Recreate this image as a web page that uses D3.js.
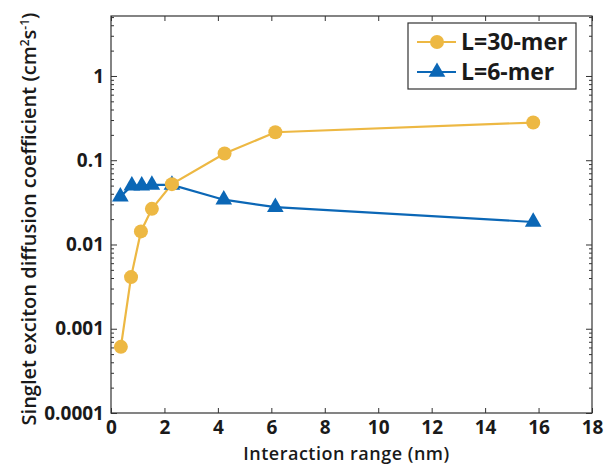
<!DOCTYPE html>
<html>
  <head>
    <style type="text/css">
      body { margin:0; background:#fff; }
      text { font-family:"Open Sans",sans-serif; fill:#1a1a1a; }
      .tick text { font-weight:bold; font-size:19px; }
      .domain { display:none; }
    </style>
  </head>
  <body>
    <div id="canvas"></div>
    <script src="https://d3js.org/d3.v7.min.js"></script>
    <script type="text/javascript">

    // interaction range (nm)
    var range30 = [0.37, 0.75, 1.12, 1.53, 2.28, 4.25, 6.15, 15.8];
    var diff30 = [0.00061, 0.0041, 0.0143, 0.0265, 0.052, 0.12, 0.215, 0.28];
    var range6 = [0.35, 0.78, 1.15, 1.53, 2.28, 4.22, 6.15, 15.8];
    var diff6 = [0.037, 0.05, 0.05, 0.051, 0.051, 0.034, 0.0278, 0.0185];
    var xTicks = [0, 2, 4, 6, 8, 10, 12, 14, 16, 18];
    var yTicks = [0.0001, 0.001, 0.01, 0.1, 1];
    var yTickLabels = ["0.0001", "0.001", "0.01", "0.1", "1"];
    var seriesNames = ["L=30-mer", "L=6-mer"];
    var colors = ["#EDB843", "#0B67B6"];

    var W = 605, H = 465;
    var margin = {left:111, right:13, top:16, bottom:52};
    var pw = W - margin.left - margin.right,
        ph = H - margin.top - margin.bottom;

    var svg = d3.select('#canvas').append('svg')
      .attr('width', W).attr('height', H);
    var g = svg.append('g').attr('transform', 'translate(' + margin.left + ',' + margin.top + ')');

    var x = d3.scaleLinear().domain([0, 18]).range([0, pw]);
    var y = d3.scaleLog().domain([0.0001, 5.15]).range([ph, 0]);

    // minor ticks for log axis
    var minor = [];
    [0.0001, 0.001, 0.01, 0.1, 1].forEach(function (d) {
      for (var k = 2; k <= 9; k++) { if (d * k <= 5.15) minor.push(d * k); }
    });

    var tk = '#333';
    // bottom / top x axes
    g.append('g').attr('transform', 'translate(0,' + ph + ')')
      .call(d3.axisBottom(x).tickValues(xTicks).tickSize(-5).tickPadding(8).tickFormat(d3.format('d')));
    g.append('g')
      .call(d3.axisTop(x).tickValues(xTicks).tickSize(-5).tickFormat(''));
    // left / right y axes
    g.append('g')
      .call(d3.axisLeft(y).tickValues(yTicks).tickSize(-6).tickPadding(7)
        .tickFormat(function (d, i) { return yTickLabels[i]; }));
    g.append('g')
      .call(d3.axisLeft(y).tickValues(minor).tickSize(-3).tickFormat(''));
    g.append('g').attr('transform', 'translate(' + pw + ',0)')
      .call(d3.axisRight(y).tickValues(yTicks).tickSize(-6).tickFormat(''));
    g.append('g').attr('transform', 'translate(' + pw + ',0)')
      .call(d3.axisRight(y).tickValues(minor).tickSize(-3).tickFormat(''));
    g.selectAll('.tick line').attr('stroke', tk);

    g.append('rect').attr('width', pw).attr('height', ph)
      .attr('fill', 'none').attr('stroke', '#333').attr('stroke-width', 1.2);

    var line = d3.line().x(function (d) { return x(d[0]); }).y(function (d) { return y(d[1]); });
    var d30 = d3.zip(range30, diff30), d6 = d3.zip(range6, diff6);

    var tri = d3.symbol().type(d3.symbolTriangle).size(120);

    g.append('path').datum(d6).attr('d', line).attr('fill', 'none')
      .attr('stroke', colors[1]).attr('stroke-width', 2.2);
    g.append('path').datum(d30).attr('d', line).attr('fill', 'none')
      .attr('stroke', colors[0]).attr('stroke-width', 2.2);

    g.selectAll('.tri').data(d6).enter().append('path')
      .attr('d', tri)
      .attr('transform', function (d) { return 'translate(' + x(d[0]) + ',' + y(d[1]) + ')'; })
      .attr('fill', colors[1]);
    g.selectAll('.dot').data(d30).enter().append('circle')
      .attr('cx', function (d) { return x(d[0]); })
      .attr('cy', function (d) { return y(d[1]); })
      .attr('r', 7).attr('fill', colors[0]);

    // legend
    var lg = svg.append('g').attr('transform', 'translate(408,23)');
    lg.append('rect').attr('width', 168).attr('height', 66)
      .attr('fill', '#fff').attr('stroke', '#333').attr('stroke-width', 1.2);
    seriesNames.forEach(function (name, i) {
      var yy = 19 + i * 30;
      lg.append('line').attr('x1', 9).attr('x2', 48).attr('y1', yy).attr('y2', yy)
        .attr('stroke', colors[i]).attr('stroke-width', 2.2);
      if (i === 0) {
        lg.append('circle').attr('cx', 29).attr('cy', yy).attr('r', 7).attr('fill', colors[i]);
      } else {
        lg.append('path').attr('d', tri).attr('transform', 'translate(29,' + yy + ')').attr('fill', colors[i]);
      }
      lg.append('text').attr('x', 53).attr('y', yy + 8)
        .style('font-size', '23px').style('font-weight', 'bold').text(name);
    });

    // axis titles
    svg.append('text').attr('x', margin.left + pw / 2 - 5).attr('y', 460)
      .attr('text-anchor', 'middle').style('font-size', '18px').style('font-weight', 600)
      .style('letter-spacing', '0.5px')
      .text('Interaction range (nm)');
    var yt = svg.append('text')
      .attr('transform', 'translate(36,' + (margin.top + 203) + ') rotate(-90)')
      .attr('text-anchor', 'middle').style('font-size', '20px').style('font-weight', 600);
    yt.append('tspan').text('Singlet exciton diffusion coefficient (cm');
    yt.append('tspan').attr('dy', -7).style('font-size', '12px').text('2');
    yt.append('tspan').attr('dy', 7).text('s');
    yt.append('tspan').attr('dy', -7).style('font-size', '12px').text('-1');
    yt.append('tspan').attr('dy', 7).text(')');
    </script>
  </body>
</html>
